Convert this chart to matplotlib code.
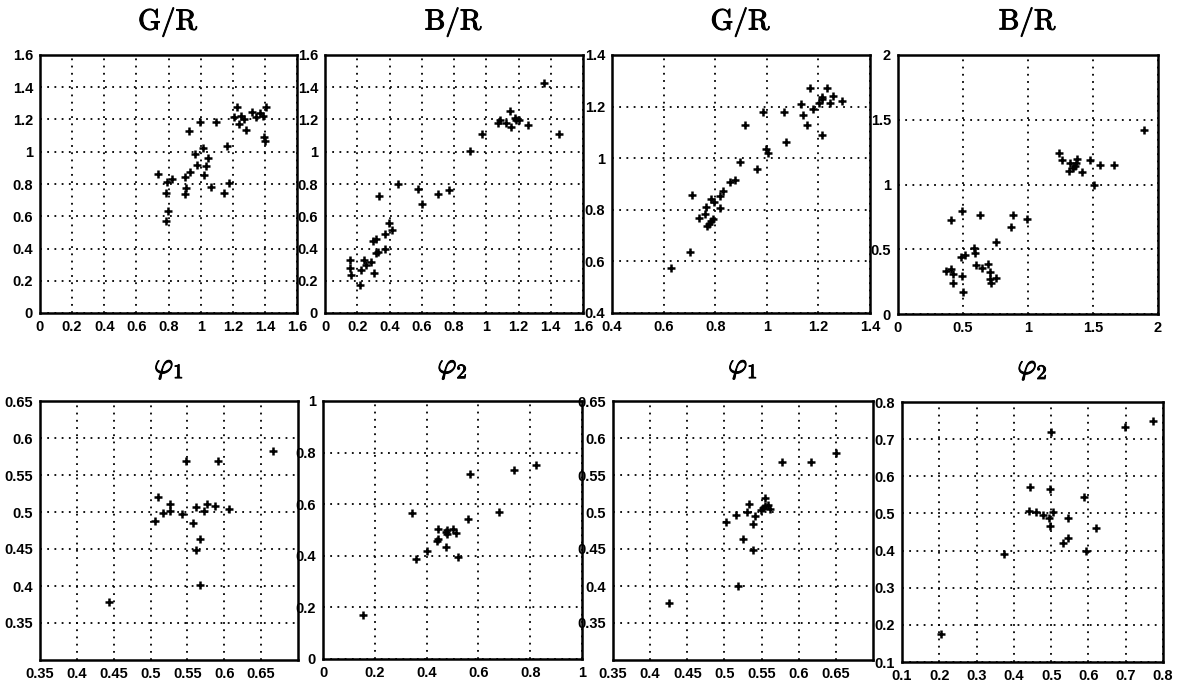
import numpy as np
import matplotlib
matplotlib.use('Agg')
import matplotlib.pyplot as plt
import matplotlib.patheffects as pe
from matplotlib.ticker import FuncFormatter

plt.rcParams['font.family'] = 'Liberation Sans'
plt.rcParams['mathtext.fontset'] = 'cm'

# --- data ---
# top row, left pair: G/R and B/R
gr1_x = [0.737, 0.789, 0.824, 0.782, 0.796, 0.782, 0.902, 0.932, 0.911, 0.905, 0.929, 0.962,
         0.976, 0.994, 1.013, 1.046, 1.032, 1.023, 1.062, 1.095, 1.147, 1.165, 1.177, 1.21,
         1.225, 1.237, 1.252, 1.272, 1.283, 1.318, 1.344, 1.369, 1.386, 1.406, 1.394, 1.40]
gr1_y = [0.861, 0.812, 0.834, 0.747, 0.634, 0.573, 0.845, 0.872, 0.778, 0.737, 1.128, 0.986,
         0.917, 1.182, 1.025, 0.963, 0.911, 0.853, 0.780, 1.182, 0.745, 1.035, 0.807, 1.213,
         1.275, 1.172, 1.222, 1.201, 1.133, 1.248, 1.213, 1.238, 1.222, 1.277, 1.089, 1.066]

br1_x = [0.155, 0.155, 0.161, 0.217, 0.221, 0.242, 0.254, 0.285, 0.303, 0.295, 0.316, 0.316,
         0.330, 0.336, 0.372, 0.372, 0.396, 0.413, 0.454, 0.578, 0.603, 0.698, 0.768, 0.898,
         0.976, 1.073, 1.084, 1.121, 1.146, 1.152, 1.177, 1.187, 1.204, 1.259, 1.356, 1.449]
br1_y = [0.327, 0.280, 0.238, 0.172, 0.269, 0.331, 0.296, 0.317, 0.248, 0.447, 0.458, 0.369,
         0.379, 0.727, 0.395, 0.487, 0.559, 0.513, 0.797, 0.772, 0.673, 0.741, 0.762, 1.004,
         1.110, 1.176, 1.197, 1.180, 1.253, 1.155, 1.207, 1.197, 1.197, 1.166, 1.429, 1.108]

# top row, right pair: G/R and B/R
gr2_x = [0.630, 0.703, 0.712, 0.739, 0.764, 0.761, 0.768, 0.777, 0.783, 0.791, 0.785, 0.797,
         0.817, 0.819, 0.832, 0.858, 0.877, 0.897, 0.916, 0.961, 0.985, 0.996, 1.003, 1.065,
         1.074, 1.132, 1.142, 1.157, 1.168, 1.181, 1.201, 1.213, 1.215, 1.213, 1.232, 1.245,
         1.258, 1.290]
gr2_y = [0.575, 0.635, 0.859, 0.769, 0.810, 0.782, 0.736, 0.745, 0.756, 0.766, 0.842, 0.831,
         0.853, 0.808, 0.872, 0.908, 0.915, 0.985, 1.127, 0.960, 1.179, 1.034, 1.021, 1.179,
         1.064, 1.211, 1.167, 1.127, 1.273, 1.192, 1.215, 1.228, 1.237, 1.090, 1.273, 1.215,
         1.243, 1.221]

br2_x = [0.367, 0.408, 0.423, 0.423, 0.410, 0.495, 0.495, 0.500, 0.487, 0.513, 0.582, 0.590,
         0.597, 0.633, 0.646, 0.692, 0.705, 0.705, 0.718, 0.756, 0.751, 0.872, 0.885, 0.992,
         1.238, 1.262, 1.313, 1.326, 1.346, 1.359, 1.372, 1.379, 1.418, 1.474, 1.508, 1.556,
         1.659, 1.890]
br2_y = [0.335, 0.348, 0.310, 0.237, 0.723, 0.792, 0.294, 0.168, 0.444, 0.457, 0.508, 0.472,
         0.379, 0.766, 0.359, 0.387, 0.323, 0.268, 0.243, 0.281, 0.555, 0.668, 0.761, 0.733,
         1.244, 1.187, 1.102, 1.166, 1.130, 1.143, 1.169, 1.195, 1.097, 1.192, 0.994, 1.154,
         1.154, 1.417]

# bottom row: phi1 and phi2
p1a_x = [0.443, 0.506, 0.510, 0.517, 0.527, 0.527, 0.543, 0.548, 0.558, 0.561, 0.562, 0.567,
         0.567, 0.572, 0.576, 0.588, 0.592, 0.607, 0.666]
p1a_y = [0.378, 0.488, 0.520, 0.498, 0.511, 0.501, 0.497, 0.569, 0.485, 0.507, 0.449, 0.464,
         0.402, 0.502, 0.511, 0.508, 0.569, 0.504, 0.582]

p2a_x = [0.155, 0.345, 0.359, 0.400, 0.439, 0.443, 0.445, 0.475, 0.477, 0.477, 0.475, 0.503,
         0.512, 0.523, 0.561, 0.568, 0.681, 0.739, 0.823]
p2a_y = [0.171, 0.564, 0.387, 0.419, 0.459, 0.505, 0.464, 0.493, 0.500, 0.485, 0.433, 0.504,
         0.490, 0.397, 0.543, 0.716, 0.571, 0.732, 0.751]

p1b_x = [0.426, 0.502, 0.516, 0.518, 0.525, 0.531, 0.533, 0.539, 0.538, 0.541, 0.549, 0.552,
         0.555, 0.555, 0.559, 0.561, 0.578, 0.616, 0.650]
p1b_y = [0.377, 0.487, 0.496, 0.400, 0.464, 0.500, 0.511, 0.484, 0.449, 0.494, 0.503, 0.505,
         0.519, 0.508, 0.510, 0.504, 0.567, 0.567, 0.580]

p2b_x = [0.205, 0.374, 0.442, 0.441, 0.459, 0.479, 0.493, 0.497, 0.497, 0.499, 0.504, 0.533,
         0.544, 0.545, 0.588, 0.593, 0.621, 0.698, 0.772]
p2b_y = [0.176, 0.390, 0.572, 0.507, 0.503, 0.497, 0.487, 0.466, 0.566, 0.718, 0.505, 0.420,
         0.487, 0.433, 0.543, 0.400, 0.461, 0.733, 0.749]

titles = [r'$\mathrm{G/R}$', r'$\mathrm{B/R}$', r'$\mathrm{G/R}$', r'$\mathrm{B/R}$',
          r'$\varphi_1$', r'$\varphi_2$', r'$\varphi_1$', r'$\varphi_2$']

panels = [
    (gr1_x, gr1_y, (0, 1.6), (0, 1.6), np.arange(0, 1.61, 0.2), np.arange(0, 1.61, 0.2)),
    (br1_x, br1_y, (0, 1.6), (0, 1.6), np.arange(0, 1.61, 0.2), np.arange(0, 1.61, 0.2)),
    (gr2_x, gr2_y, (0.4, 1.4), (0.4, 1.4), np.arange(0.4, 1.41, 0.2), np.arange(0.4, 1.41, 0.2)),
    (br2_x, br2_y, (0, 2), (0, 2), np.arange(0, 2.01, 0.5), np.arange(0, 2.01, 0.5)),
    (p1a_x, p1a_y, (0.35, 0.7), (0.3, 0.65), np.arange(0.35, 0.66, 0.05), np.arange(0.35, 0.66, 0.05)),
    (p2a_x, p2a_y, (0, 1), (0, 1), np.arange(0, 1.01, 0.2), np.arange(0, 1.01, 0.2)),
    (p1b_x, p1b_y, (0.35, 0.7), (0.3, 0.65), np.arange(0.35, 0.66, 0.05), np.arange(0.35, 0.66, 0.05)),
    (p2b_x, p2b_y, (0.1, 0.8), (0.1, 0.8), np.arange(0.1, 0.81, 0.1), np.arange(0.1, 0.81, 0.1)),
]

# axes boxes in pixels (left, top, right, bottom)
boxes = [(40, 55, 297, 313), (325, 55, 583, 313), (612, 55, 870, 313), (898, 55, 1158, 314),
         (40, 401, 298, 660), (323, 401, 582, 659), (613, 401, 873, 660), (902, 402, 1163, 662)]

W, H = 1178, 682
fig = plt.figure(figsize=(W / 100, H / 100), dpi=100)
fmt = FuncFormatter(lambda v, p: '%g' % round(v, 3))

for (xs, ys, xl, yl, xt, yt), (l, t, r, b), ttl in zip(panels, boxes, titles):
    ax = fig.add_axes([l / W, 1 - b / H, (r - l) / W, (b - t) / H])
    ax.plot(xs, ys, '+', color='k', ms=6, mew=1.8)
    ax.set_xlim(*xl)
    ax.set_ylim(*yl)
    ax.set_xticks(xt)
    ax.set_yticks(yt)
    ax.xaxis.set_major_formatter(fmt)
    ax.yaxis.set_major_formatter(fmt)
    ax.grid(True, color='k', linestyle=(0, (1, 3)), linewidth=1.3)
    ax.tick_params(length=0, labelsize=10.5, pad=5)
    for lbl in ax.get_xticklabels() + ax.get_yticklabels():
        lbl.set_fontweight('bold')
    for s in ax.spines.values():
        s.set_linewidth(1.8)
    ax.text(0.5, 1.13, ttl, transform=ax.transAxes, ha='center', va='center', fontsize=21,
            path_effects=[pe.withStroke(linewidth=0.7, foreground='k')])

fig.savefig('out.png', dpi=100)
